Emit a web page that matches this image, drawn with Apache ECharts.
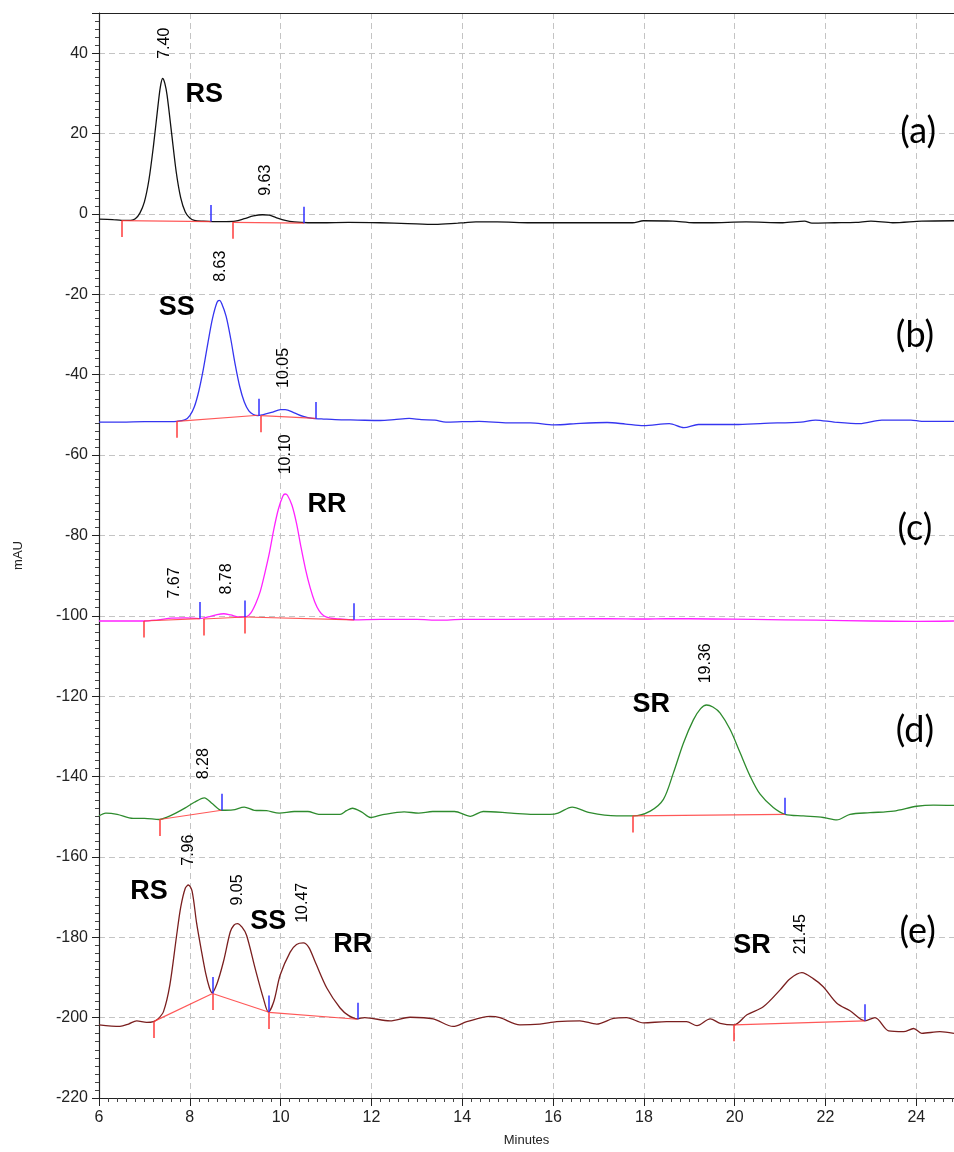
<!DOCTYPE html>
<html>
<head>
<meta charset="utf-8">
<script src="https://cdn.jsdelivr.net/npm/echarts@6.0.0/dist/echarts.min.js"></script>
<style>
  html, body { margin: 0; padding: 0; background: #fff; }
  #chart { width: 954px; height: 1152px; }
</style>
</head>
<body>
<div id="chart"></div>
<script>
// chromatogram traces, [minutes, mAU]
var traceA = [[6.0,-1.3],[6.3,-1.4],[6.5,-1.6],[6.7,-1.6],[6.8,-1.2],[6.9,0.2],[7.0,3.0],[7.1,8.5],[7.2,17],[7.3,27],[7.35,31.5],[7.4,33.7],[7.45,32.5],[7.5,29.5],[7.6,20],[7.7,10.5],[7.8,4],[7.9,0.5],[8.0,-1.0],[8.1,-1.6],[8.3,-1.8],[8.5,-1.9],[8.8,-1.9],[9.0,-1.8],[9.2,-1.2],[9.4,-0.5],[9.6,-0.2],[9.75,-0.3],[9.9,-0.9],[10.1,-1.6],[10.3,-2.0],[10.6,-2.2],[10.9,-2.2],[11.5,-2.1],[12.19,-2.2],[12.8,-2.4],[13.4,-2.6],[13.9,-2.3],[14.04,-2.2],[14.3,-2.0],[14.77,-2.0],[15.5,-2.2],[16.5,-2.2],[17.5,-2.2],[17.75,-2.2],[17.99,-1.7],[18.64,-1.8],[19.1,-2.2],[19.44,-2.2],[20.25,-2.0],[21.06,-2.2],[21.54,-1.8],[21.7,-2.3],[22.2,-2.2],[22.67,-2.1],[23.0,-1.8],[23.48,-2.2],[24.12,-1.8],[24.83,-1.7]];

var traceB = [[6.0,-51.8],[6.5,-51.8],[7.0,-51.7],[7.4,-51.7],[7.71,-51.6],[7.9,-51.2],[8.0,-50.2],[8.1,-48],[8.2,-44],[8.3,-38.5],[8.4,-32],[8.5,-26],[8.6,-22],[8.65,-21.5],[8.7,-22.2],[8.8,-25.5],[8.9,-31],[9.0,-37.5],[9.1,-43],[9.2,-46.8],[9.3,-49],[9.4,-49.9],[9.5,-50.2],[9.6,-50.0],[9.8,-49.4],[10.0,-48.7],[10.1,-48.7],[10.3,-49.5],[10.5,-50.4],[10.7,-50.9],[10.9,-51.0],[11.2,-51.2],[11.7,-51.3],[12.19,-51.4],[12.5,-51.2],[12.83,-50.9],[13.1,-51.2],[13.4,-51.3],[13.64,-51.8],[14.0,-51.7],[14.37,-51.6],[15.01,-52.0],[15.5,-52.0],[16.02,-52.5],[16.6,-52.1],[17.19,-51.9],[17.6,-52.3],[17.99,-52.7],[18.56,-52.2],[18.88,-53.2],[19.2,-52.4],[20.01,-52.4],[20.65,-52.1],[21.46,-51.8],[21.78,-51.3],[22.19,-51.8],[22.75,-52.2],[23.24,-51.3],[23.88,-51.3],[24.12,-51.6],[24.83,-51.6]];

var traceC = [[6.0,-101.3],[6.5,-101.3],[7.0,-101.3],[7.3,-101.0],[7.6,-100.6],[7.9,-100.5],[8.2,-100.7],[8.4,-100.3],[8.6,-99.7],[8.75,-99.5],[8.9,-99.8],[9.1,-100.3],[9.25,-100.2],[9.35,-99.2],[9.45,-97],[9.55,-94],[9.65,-89.5],[9.75,-84.5],[9.85,-78.5],[9.95,-73.5],[10.05,-70.2],[10.1,-69.7],[10.15,-70],[10.25,-72.5],[10.35,-77],[10.45,-83],[10.55,-88.5],[10.65,-93],[10.75,-96.5],[10.85,-98.8],[10.95,-100.0],[11.1,-100.6],[11.3,-100.8],[11.6,-101.0],[12.2,-100.9],[13.0,-100.9],[13.5,-101.1],[14.0,-100.9],[15.0,-100.9],[17.2,-100.7],[18.0,-100.8],[18.5,-100.7],[19.5,-100.8],[20.4,-100.9],[21.8,-101.1],[23.0,-101.3],[24.0,-101.4],[24.83,-101.3]];

var traceD = [[6.0,-149.8],[6.15,-149.1],[6.4,-149.4],[6.75,-150.4],[7.0,-150.4],[7.33,-150.7],[7.5,-150.1],[7.69,-149.1],[7.9,-147.8],[8.1,-146.4],[8.32,-145.3],[8.5,-146.8],[8.7,-148.4],[8.95,-148.3],[9.2,-147.6],[9.42,-148.4],[9.69,-148.5],[9.97,-149.1],[10.3,-148.7],[10.6,-148.7],[10.84,-149.4],[11.31,-149.4],[11.45,-148.5],[11.58,-147.9],[11.78,-148.8],[11.98,-150.2],[12.25,-149.5],[12.72,-148.8],[13.04,-149.1],[13.35,-148.7],[13.83,-148.7],[14.18,-149.9],[14.46,-148.7],[15.08,-149.1],[15.56,-149.4],[15.93,-149.4],[16.11,-149.1],[16.42,-147.6],[16.81,-149.0],[17.4,-149.8],[17.76,-149.8],[18.14,-148.6],[18.43,-145.7],[18.65,-139.1],[18.87,-131.7],[19.09,-125.9],[19.25,-123.1],[19.38,-122.2],[19.52,-122.7],[19.68,-124.2],[19.9,-128.3],[20.12,-134.1],[20.34,-139.9],[20.56,-144.4],[20.85,-147.7],[21.11,-149.4],[21.51,-149.8],[21.95,-150.2],[22.25,-150.8],[22.54,-149.4],[22.98,-149.0],[23.5,-148.6],[24.01,-147.4],[24.38,-147.1],[24.83,-147.2]];

var traceE = [[6.0,-201.8],[6.46,-202.2],[6.65,-201.6],[6.83,-200.8],[7.05,-201.2],[7.2,-201.0],[7.3,-200.3],[7.42,-198.5],[7.56,-191.9],[7.71,-179.5],[7.8,-172.5],[7.9,-167.8],[7.97,-167.0],[8.05,-168.5],[8.15,-176.5],[8.25,-183],[8.35,-189],[8.43,-192.5],[8.49,-193.8],[8.6,-191.5],[8.74,-186.1],[8.89,-178.7],[8.97,-177.0],[9.05,-176.6],[9.15,-177.5],[9.25,-179.5],[9.44,-187.8],[9.62,-195.2],[9.73,-198.6],[9.85,-196.0],[9.99,-189.4],[10.21,-183.7],[10.35,-181.8],[10.5,-181.4],[10.62,-182.5],[10.76,-186.1],[11.02,-192.7],[11.31,-197.6],[11.5,-199.5],[11.69,-200.3],[11.85,-200.0],[12.41,-200.8],[12.85,-199.9],[13.36,-200.3],[13.8,-202.2],[14.1,-201.0],[14.61,-199.7],[14.83,-200.0],[15.27,-201.8],[15.71,-201.6],[16.08,-201.0],[16.59,-200.8],[16.96,-201.6],[17.33,-200.2],[17.62,-200.0],[17.99,-201.3],[18.5,-201.0],[18.94,-201.0],[19.17,-202.0],[19.46,-200.3],[19.68,-201.4],[19.99,-201.8],[20.27,-199.3],[20.63,-197.3],[21.0,-193.1],[21.22,-190.3],[21.48,-188.8],[21.73,-190.3],[21.95,-192.3],[22.25,-196.4],[22.54,-198.3],[22.87,-200.8],[23.09,-200.0],[23.39,-203.3],[23.72,-203.5],[23.94,-202.7],[24.12,-203.9],[24.52,-203.5],[24.83,-203.9]];

// integration baselines: [start, end] of each peak
var baselines = [
  [[6.5,-1.65],[8.47,-1.9]], [[8.94,-2.1],[10.52,-2.3]],
  [[7.71,-51.6],[9.51,-50.1]], [[9.57,-50.2],[10.78,-50.9]],
  [[6.99,-101.3],[8.22,-100.7]], [[8.3,-100.8],[9.22,-100.3]], [[9.22,-100.3],[11.62,-101.0]],
  [[7.33,-150.7],[8.7,-148.4]], [[17.75,-149.8],[21.11,-149.4]],
  [[7.2,-201.0],[8.5,-194.0]], [[8.5,-194.0],[9.73,-198.6]], [[9.74,-198.7],[11.69,-200.4]], [[19.99,-201.8],[22.87,-200.8]]
];

// retention time labels [minutes, mAU, text]
var rtLabels = [
  [7.45,38.6,'7.40'], [9.66,4.5,'9.63'],
  [8.67,-16.9,'8.63'], [10.06,-43.3,'10.05'],
  [10.1,-64.8,'10.10'], [7.67,-95.7,'7.67'], [8.81,-94.7,'8.78'],
  [8.3,-140.7,'8.28'], [19.37,-116.8,'19.36'],
  [7.97,-162.2,'7.96'], [9.05,-172.1,'9.05'], [10.48,-176.4,'10.47'], [21.46,-184.2,'21.45']
];

// isomer names [minutes, mAU, text]
var peakNames = [
  [8.32,29.8,'RS'], [7.71,-23.3,'SS'], [11.02,-72.4,'RR'], [18.16,-122,'SR'],
  [7.1,-168.6,'RS'], [9.73,-176.2,'SS'], [11.59,-181.8,'RR'], [20.38,-182,'SR']
];

// panel tags [minutes, mAU, text]
var panelTags = [
  [24.04,20.6,'(a)'], [23.97,-30.3,'(b)'], [23.97,-78.2,'(c)'], [23.97,-128.5,'(d)'], [24.03,-178.5,'(e)']
];

var traceColors = ['#111111', '#3535f0', '#ff22ff', '#2e8b2e', '#7a1f1f'];
var traces = [traceA, traceB, traceC, traceD, traceE];

var tickLen = 4.1;
var redTicks = baselines.map(function (b) {
  return { coords: [b[0], [b[0][0], b[0][1] - tickLen]] };
});
var blueTicks = baselines.map(function (b) {
  return { coords: [b[1], [b[1][0], b[1][1] + tickLen]] };
});

var font = 'Liberation Sans, Arial, sans-serif';

var series = traces.map(function (t, i) {
  return {
    type: 'line',
    data: t,
    smooth: 0.3,
    symbol: 'none',
    lineStyle: { color: traceColors[i], width: 1.3 },
    z: 3
  };
});

series.push({
  type: 'lines',
  coordinateSystem: 'cartesian2d',
  data: baselines.map(function (b) { return { coords: b }; }),
  lineStyle: { color: '#ff3b3b', width: 1.2, opacity: 0.85 },
  z: 4
});
series.push({
  type: 'lines',
  coordinateSystem: 'cartesian2d',
  data: redTicks,
  lineStyle: { color: '#ff3b3b', width: 1.5, opacity: 1 },
  z: 4
});
series.push({
  type: 'lines',
  coordinateSystem: 'cartesian2d',
  data: blueTicks,
  lineStyle: { color: '#3030ff', width: 1.5, opacity: 1 },
  z: 4
});

// text-only scatter layers
function textLayer(data, label) {
  label.show = true;
  label.position = 'inside';
  label.formatter = function (p) { return p.data[2]; };
  return {
    type: 'scatter',
    data: data,
    symbolSize: 1,
    itemStyle: { color: 'rgba(0,0,0,0)', opacity: 1 },
    label: label,
    emphasis: { disabled: true },
    z: 5
  };
}

series.push(textLayer(rtLabels, {
  rotate: 90,
  align: 'left',
  verticalAlign: 'middle',
  color: '#000',
  fontFamily: font,
  fontSize: 16
}));
series.push(textLayer(peakNames, {
  color: '#000',
  fontFamily: font,
  fontWeight: 'bold',
  fontSize: 27
}));
series.push(textLayer(panelTags, {
  color: '#000',
  fontFamily: 'Lato, Open Sans, sans-serif',
  fontSize: 36
}));

var gridLine = { show: true, lineStyle: { color: '#c4c4c4', type: [6, 4], width: 1 } };

var option = {
  animation: false,
  backgroundColor: '#fff',
  grid: { left: 99, right: 0, top: 13, bottom: 48, containLabel: false },
  xAxis: [{
    type: 'value',
    min: 6,
    max: 24.83,
    interval: 2,
    name: 'Minutes',
    nameLocation: 'middle',
    nameGap: 36,
    nameTextStyle: { fontFamily: font, fontSize: 13, color: '#222' },
    axisLine: { onZero: false, lineStyle: { color: '#222', width: 1.2 } },
    axisTick: { length: 8, lineStyle: { color: '#222' } },
    minorTick: { show: true, splitNumber: 10, length: 4, lineStyle: { color: '#444' } },
    axisLabel: { showMaxLabel: false, fontFamily: font, fontSize: 16, color: '#222', margin: 12 },
    splitLine: gridLine
  }, {
    type: 'value',
    position: 'top',
    min: 6,
    max: 24.83,
    axisLine: { show: true, onZero: false, lineStyle: { color: '#222', width: 1.2 } },
    axisTick: { show: false },
    axisLabel: { show: false },
    splitLine: { show: false }
  }],
  yAxis: {
    type: 'value',
    min: -220,
    max: 50,
    interval: 20,
    name: 'mAU',
    nameLocation: 'middle',
    nameGap: 74,
    nameTextStyle: { fontFamily: font, fontSize: 13, color: '#222' },
    axisLine: { show: true, onZero: false, lineStyle: { color: '#222', width: 1.2 } },
    axisTick: { show: true, length: 7, lineStyle: { color: '#222' } },
    minorTick: { show: true, splitNumber: 10, length: 4, lineStyle: { color: '#444' } },
    axisLabel: { showMaxLabel: false, fontFamily: font, fontSize: 16, color: '#222', margin: 11 },
    splitLine: gridLine
  },
  series: series
};

var myChart = echarts.init(document.getElementById('chart'));
myChart.setOption(option);
</script>
</body>
</html>
